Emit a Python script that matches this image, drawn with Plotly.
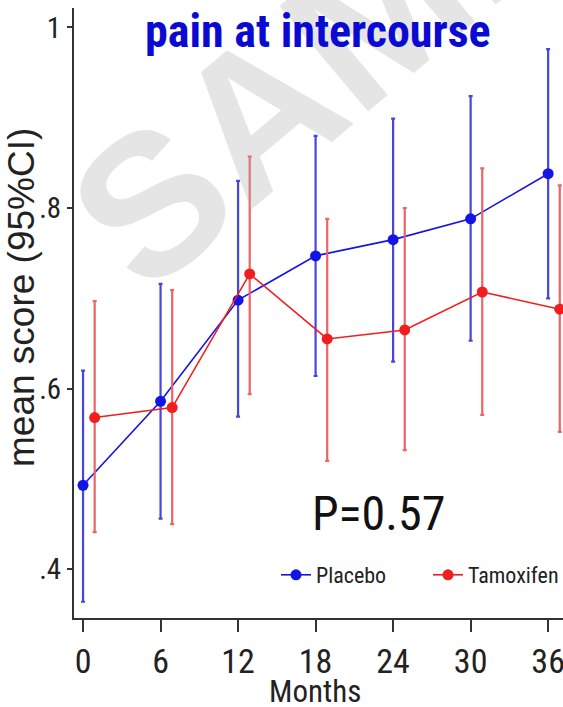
import plotly.graph_objects as go

months = [0, 6, 12, 18, 24, 30, 36]
x_tick_labels = ["0", "6", "12", "18", "24", "30", "36"]
y_tick_vals = [0.4, 0.6, 0.8, 1.0]
y_tick_labels = [".4", ".6", ".8", "1"]

placebo_mean = [0.493, 0.586, 0.698, 0.747, 0.765, 0.788, 0.838]
placebo_lo = [0.364, 0.456, 0.569, 0.614, 0.630, 0.653, 0.700]
placebo_hi = [0.620, 0.716, 0.830, 0.880, 0.899, 0.924, 0.976]

tamox_mean = [0.568, 0.579, 0.727, 0.655, 0.665, 0.707, 0.688]
tamox_lo = [0.441, 0.450, 0.594, 0.520, 0.532, 0.571, 0.552]
tamox_hi = [0.697, 0.709, 0.857, 0.788, 0.800, 0.844, 0.825]

offset = 0.9
tamox_x = [m + offset for m in months]

NARROW = "Roboto Condensed, Liberation Sans Narrow, Arial Narrow, sans-serif"
REG = "Liberation Sans, Arial, Helvetica, sans-serif"

fig = go.Figure()

fig.add_trace(go.Scatter(
    x=months, y=placebo_mean, name="Placebo", mode="lines+markers",
    line=dict(color="#1414e6", width=1.6),
    marker=dict(color="#1414e6", size=11),
    legendwidth=107,
    error_y=dict(type="data", symmetric=False,
                 array=[h - m for h, m in zip(placebo_hi, placebo_mean)],
                 arrayminus=[m - l for m, l in zip(placebo_mean, placebo_lo)],
                 color="#4646dc", thickness=2.2, width=2),
))
fig.add_trace(go.Scatter(
    x=tamox_x, y=tamox_mean, name="Tamoxifen", mode="lines+markers",
    line=dict(color="#f01e1e", width=1.6),
    marker=dict(color="#f01e1e", size=11),
    legendwidth=90,
    error_y=dict(type="data", symmetric=False,
                 array=[h - m for h, m in zip(tamox_hi, tamox_mean)],
                 arrayminus=[m - l for m, l in zip(tamox_mean, tamox_lo)],
                 color="#ec6464", thickness=2.2, width=2),
))

W, H = 563, 707
L, R, T, B = 74, 0, 8, 89
pw = W - L - R
ph = H - T - B

def px_x(p):
    return (p - L) / pw

def px_y(p):
    return (H - B - p) / ph

fig.update_layout(
    width=W, height=H,
    margin=dict(l=L, r=R, t=T, b=B, autoexpand=False),
    paper_bgcolor="white", plot_bgcolor="white",
    showlegend=True,
    legend=dict(orientation="h", x=1.0, xanchor="right", y=px_y(575), yanchor="middle",
                font=dict(family=NARROW, size=22, color="#222"),
                itemwidth=30, entrywidthmode="pixels",
                bgcolor="rgba(0,0,0,0)"),
    xaxis=dict(range=[-0.7, 37.15], tickvals=months, ticktext=x_tick_labels,
               showgrid=False, zeroline=False, showline=True, linecolor="#333",
               linewidth=2, ticks="outside", ticklen=12, tickwidth=2, tickcolor="#333",
               tickfont=dict(family=NARROW, size=34, color="#222"),
               ticklabeloverflow="allow", automargin=False),
    yaxis=dict(range=[0.346, 1.0215], tickvals=y_tick_vals, ticktext=y_tick_labels,
               showgrid=False, zeroline=False, showline=True, linecolor="#333",
               linewidth=2, ticks="outside", ticklen=5, tickwidth=1.5, tickcolor="#333",
               tickfont=dict(family=NARROW, size=29, color="#222"),
               automargin=False),
    annotations=[
        dict(text="<b>SAMPLE</b>", x=398 / W, y=1 + 35 / H, xref="paper", yref="paper",
             xanchor="center", yanchor="middle", showarrow=False, textangle=-40,
             font=dict(family="Liberation Sans, Arial", size=200, color="rgba(170,170,170,0.3)")),
        dict(text="<b>pain at intercourse</b>", x=px_x(318), y=px_y(31), xref="paper", yref="paper",
             xanchor="center", yanchor="middle", showarrow=False,
             font=dict(family=NARROW, size=46, color="#0a0ad2")),
        dict(text="P=0.57", x=px_x(378), y=px_y(513), xref="paper", yref="paper",
             xanchor="center", yanchor="middle", showarrow=False,
             font=dict(family=NARROW, size=48, color="#111")),
        dict(text="mean score (95%CI)", x=px_x(21), y=px_y(298), xref="paper", yref="paper",
             xanchor="center", yanchor="middle", showarrow=False, textangle=-90,
             font=dict(family=REG, size=37, color="#222")),
        dict(text="Months", x=px_x(315), y=px_y(691), xref="paper", yref="paper",
             xanchor="center", yanchor="middle", showarrow=False,
             font=dict(family=NARROW, size=31, color="#222")),
    ],
)

fig.write_html("out.html", config={"displayModeBar": False},
               post_script="document.body.style.margin='0px';")
